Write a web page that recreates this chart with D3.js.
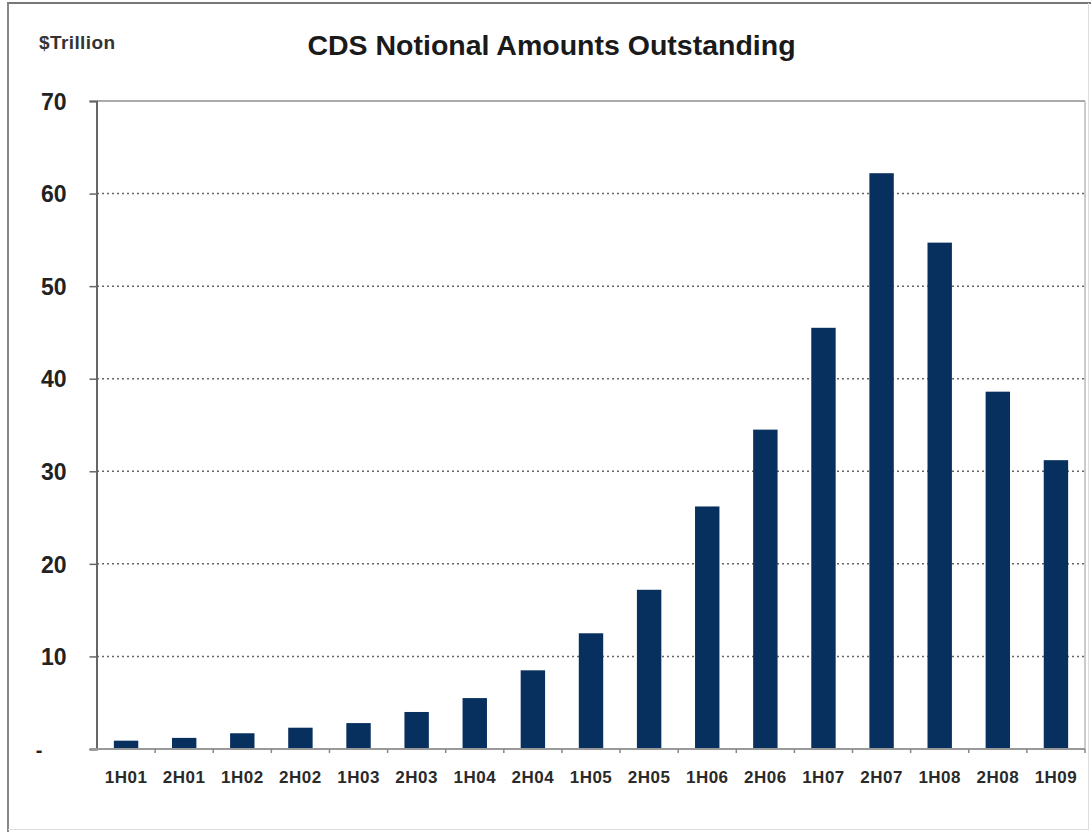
<!DOCTYPE html>
<html>
<head>
<meta charset="utf-8">
<script src="https://cdn.jsdelivr.net/npm/d3@7"></script>
<style>
  html, body { margin: 0; padding: 0; background: #fff; }
  svg { display: block; }
  text { font-family: Arial, "Liberation Sans", sans-serif; }
</style>
</head>
<body>
<script>
const categories = ["1H01","2H01","1H02","2H02","1H03","2H03","1H04","2H04","1H05","2H05","1H06","2H06","1H07","2H07","1H08","2H08","1H09"];
const values = [0.9, 1.2, 1.7, 2.3, 2.8, 4.0, 5.5, 8.5, 12.5, 17.2, 26.2, 34.5, 45.5, 62.2, 54.7, 38.6, 31.2];
const yTicks = [0, 10, 20, 30, 40, 50, 60, 70];
const yTickLabels = ["-", "10", "20", "30", "40", "50", "60", "70"];
const title = "CDS Notional Amounts Outstanding";
const unitLabel = "$Trillion";

const W = 1091, H = 832;
const plotL = 97, plotR = 1085, plotT = 101, plotB = 749;

const svg = d3.select("body").append("svg").attr("width", W).attr("height", H);

// outer frame
svg.append("line").attr("x1", 7).attr("x2", 1091).attr("y1", 3).attr("y2", 3)
  .attr("stroke", "#777").attr("stroke-width", 2);
svg.append("line").attr("x1", 8).attr("x2", 8).attr("y1", 3).attr("y2", 832)
  .attr("stroke", "#888").attr("stroke-width", 2);
svg.append("line").attr("x1", 1088.5).attr("x2", 1088.5).attr("y1", 3).attr("y2", 830)
  .attr("stroke", "#ddd").attr("stroke-width", 1);
svg.append("line").attr("x1", 8).attr("x2", 1089).attr("y1", 829.5).attr("y2", 829.5)
  .attr("stroke", "#ddd").attr("stroke-width", 1);

const x = d3.scaleBand().domain(categories).range([plotL, plotR])
  .paddingInner(0.58).paddingOuter(0.29);
const y = d3.scaleLinear().domain([0, 70]).range([plotB, plotT]);

// plot area border (top and right)
svg.append("line").attr("x1", plotL).attr("x2", plotR).attr("y1", y(70)).attr("y2", y(70))
  .attr("stroke", "#aaa").attr("stroke-width", 2);
svg.append("line").attr("x1", plotR).attr("x2", plotR).attr("y1", y(70)).attr("y2", y(0))
  .attr("stroke", "#bbb").attr("stroke-width", 1.5);

// gridlines
svg.append("g").selectAll("line").data(yTicks.filter(d => d > 0 && d < 70)).join("line")
  .attr("x1", plotL).attr("x2", plotR)
  .attr("y1", d => y(d)).attr("y2", d => y(d))
  .attr("stroke", "#666").attr("stroke-width", 1.5).attr("stroke-dasharray", "2,3");

// bars
svg.append("g").selectAll("rect").data(values).join("rect")
  .attr("x", (d, i) => x(categories[i]))
  .attr("width", x.bandwidth())
  .attr("y", d => y(d))
  .attr("height", d => y(0) - y(d))
  .attr("fill", "#08305f");

// y axis
const yAxis = d3.axisLeft(y).tickValues(yTicks).tickSize(7)
  .tickFormat((d, i) => yTickLabels[i]);
const gy = svg.append("g").attr("transform", `translate(${plotL - 0.5},0)`).call(yAxis);
gy.select(".domain").attr("stroke", "#666").attr("stroke-width", 2);
gy.selectAll(".tick line").attr("stroke", "#666").attr("stroke-width", 1.5);
gy.selectAll(".tick text")
  .attr("x", -30).attr("dy", "0.36em")
  .attr("font-size", 23).attr("font-weight", "bold").attr("fill", "#222")
  .attr("font-family", "Arial, 'Liberation Sans', sans-serif");
gy.selectAll(".tick").filter(d => d === 0).select("text")
  .attr("x", -54).attr("font-size", 20);

// x axis
const xAxis = d3.axisBottom(x).tickSize(0).tickPadding(0);
const gx = svg.append("g").attr("transform", `translate(0,${plotB})`).call(xAxis);
gx.select(".domain").remove();
gx.selectAll(".tick text")
  .attr("y", 34).attr("dy", 0)
  .attr("font-size", 17).attr("font-weight", "bold").attr("fill", "#2a2a2a")
  .attr("letter-spacing", 0.5)
  .attr("font-family", "Arial, 'Liberation Sans', sans-serif");
svg.append("line").attr("x1", plotL - 7).attr("x2", plotR).attr("y1", plotB).attr("y2", plotB)
  .attr("stroke", "#999").attr("stroke-width", 2);
// small tick marks between categories
const boundaries = categories.map(c => x(c) + x.bandwidth() + x.step() * x.paddingInner() / 2);
svg.append("g").selectAll("line").data(boundaries).join("line")
  .attr("x1", d => d).attr("x2", d => d)
  .attr("y1", plotB).attr("y2", plotB + 4)
  .attr("stroke", "#888").attr("stroke-width", 1.5);

// title and unit label
svg.append("text").attr("x", 551.5).attr("y", 55).attr("text-anchor", "middle")
  .attr("font-size", 28.5).attr("font-weight", "bold").attr("fill", "#1a1a1a")
  .text(title);
svg.append("text").attr("x", 39).attr("y", 49)
  .attr("font-size", 19).attr("font-weight", "bold").attr("fill", "#333")
  .attr("letter-spacing", 0.4)
  .text(unitLabel);
</script>
</body>
</html>
